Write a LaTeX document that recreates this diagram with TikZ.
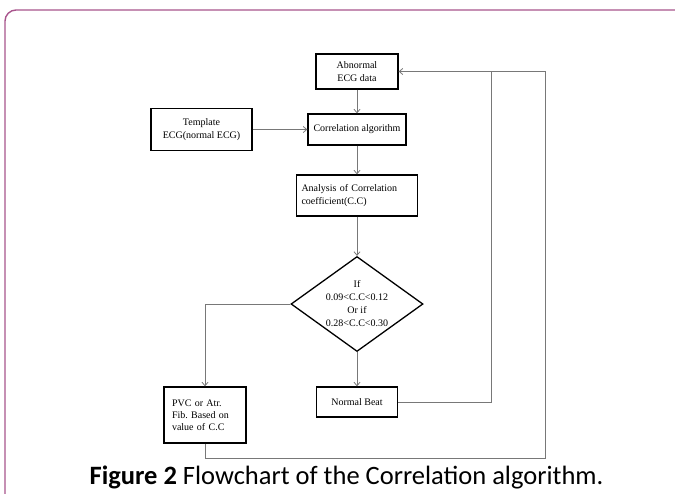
\documentclass[tikz,border=0pt]{standalone}
\usepackage{fontspec}
\setmainfont{Liberation Serif}
\newfontfamily\capfont{Carlito}
\usetikzlibrary{shapes.geometric, arrows.meta, positioning}
\frenchspacing

\definecolor{framepink}{RGB}{168,84,140}
\definecolor{linkgray}{RGB}{120,120,120}

\tikzset{
  box/.style={draw=black, line width=1.3pt, align=center, inner sep=2pt,
    font=\fontsize{10}{13}\selectfont},
  decision/.style={diamond, draw=black, line width=1.3pt, align=center, inner sep=0pt,
    aspect=1.39, minimum width=132pt, minimum height=95pt,
    font=\fontsize{10}{13}\selectfont},
  link/.style={linkgray, line width=0.8pt}
}

\begin{document}
\begin{tikzpicture}[>={Straight Barb[length=3.5pt,width=6pt]}, x=1pt, y=-1pt, node distance=58pt, on grid]
        \useasboundingbox (0,0) rectangle (675,493);
        \begin{scope}
        \clip (0,0) rectangle (675,493);
        \draw[framepink, line width=1.4pt, rounded corners=11pt] (5,10) rectangle (690,505);
        \end{scope}

        \node[box, minimum width=82pt, minimum height=35pt] (abn) at (357,71.5) {Abnormal\\ECG data};
        \node[box, minimum width=98pt, minimum height=31pt] (corr) [below=58pt of abn] {Correlation algorithm};
        \node[box, minimum width=101pt, minimum height=42pt] (tmpl) [left=155.5pt of corr] {Template\\ECG(normal ECG)};
        \node[box, align=left, text width=111pt, inner xsep=5pt, minimum height=41pt] (ana) [below=66pt of corr] {Analysis of Correlation\\coefficient(C.C)};
        \node[decision] (dec) [below=108.5pt of ana] {If\\0.09{<}C.C{<}0.12\\Or if\\0.28{<}C.C{<}0.30};
        \node[box, minimum width=81pt, minimum height=30pt] (nb) [below=98pt of dec] {Normal Beat};
        \node[box, align=left, text width=66pt, inner xsep=8pt, minimum height=56pt, font=\fontsize{10}{12}\selectfont] (pvc) [below left=111pt and 152pt of dec] {PVC or Atr.\\Fib. Based on\\value of C.C};
        \coordinate[right=93pt of abn.east] (ret1);
        \coordinate[right=147pt of abn.east] (ret2);

        \node[font=\capfont\fontsize{26.5}{30}\selectfont] (cap) at (346.5,477) {{\bfseries Figure 2} Flowchart of the Correlation algorithm.};

        \path[link, ->]
        (abn) edge (corr)
        (tmpl) edge (corr)
        (corr) edge (ana)
        (ana) edge (dec)
        (dec) edge (nb)
        (ret2) edge (abn.east)
        ;
        \draw[link, ->] (dec.west) -| (pvc.north);
        \draw[link] (nb.east) -| (ret1);
        \draw[link] (pvc.south) -- ++(0,15) -| (ret2);
    \end{tikzpicture}
\end{document}
